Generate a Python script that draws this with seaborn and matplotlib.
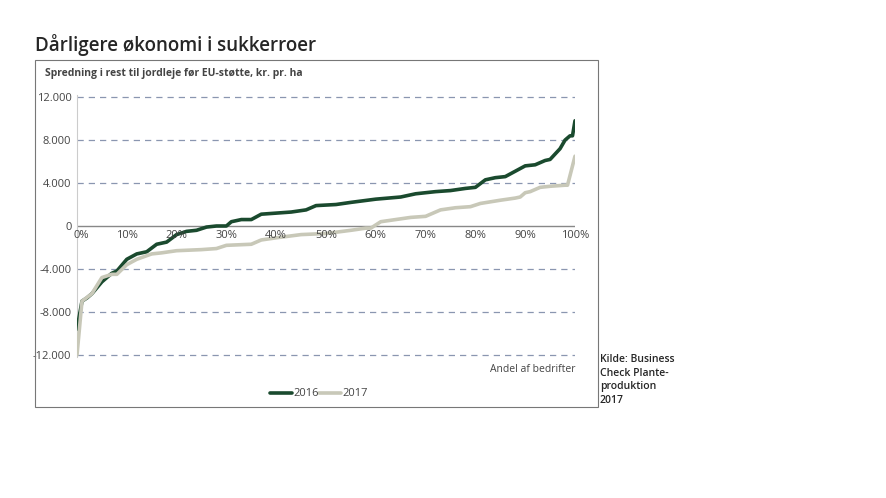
import matplotlib
matplotlib.use("Agg")
import matplotlib.pyplot as plt
import pandas as pd
import seaborn as sns
from matplotlib.patches import Rectangle

pct_2016 = [0, 1, 2, 3, 5, 7, 8, 10, 12, 14, 16, 18, 20, 22, 24, 26, 28, 30, 31, 33, 35, 37, 40, 43, 46,
            48, 52, 55, 60, 65, 68, 72, 75, 78, 80, 82, 84, 86, 88, 90, 92, 94, 95, 97, 98, 99, 99.5, 100]
val_2016 = [-9600, -7000, -6700, -6300, -5200, -4400, -4200, -3100, -2600, -2400, -1700, -1500, -800, -500,
            -400, -100, 0, 0, 400, 600, 600, 1100, 1200, 1300, 1500, 1900, 2000, 2200, 2500, 2700, 3000,
            3200, 3300, 3500, 3600, 4300, 4500, 4600, 5100, 5600, 5700, 6100, 6200, 7200, 8000, 8400, 8400, 9800]
pct_2017 = [0, 1, 3, 5, 7, 8, 10, 12, 15, 17, 20, 25, 28, 30, 35, 37, 40, 45, 50, 55, 58, 59, 61, 64, 67,
            70, 73, 76, 79, 81, 85, 88, 89, 90, 91, 93, 95, 98, 98.5, 100]
val_2017 = [-12000, -7000, -6300, -4800, -4500, -4500, -3600, -3100, -2600, -2500, -2300, -2200, -2100,
            -1800, -1700, -1300, -1100, -800, -700, -400, -200, -200, 400, 600, 800, 900, 1500, 1700, 1800,
            2100, 2400, 2600, 2700, 3100, 3200, 3600, 3700, 3800, 3800, 6500]

y_ticks = [-12000, -8000, -4000, 0, 4000, 8000, 12000]
x_ticks = [0, 10, 20, 30, 40, 50, 60, 70, 80, 90, 100]

df = pd.concat([
    pd.DataFrame({"pct": pct_2016, "val": val_2016, "year": "2016"}),
    pd.DataFrame({"pct": pct_2017, "val": val_2017, "year": "2017"}),
])

sns.set_style("white")
plt.rcParams["font.family"] = ["Open Sans", "DejaVu Sans"]

fig = plt.figure(figsize=(8.86, 4.98), dpi=100)
fig.patches.append(Rectangle((35 / 886, 1 - 407 / 498), 563 / 886, 347 / 498, transform=fig.transFigure,
                             fill=False, edgecolor="#777777", linewidth=0.8))
fig.text(35 / 886, 1 - 45 / 498, "Dårligere økonomi i sukkerroer", fontsize=13.5, va="center",
         fontweight="semibold")
fig.text(45 / 886, 1 - 73 / 498, "Spredning i rest til jordleje før EU-støtte, kr. pr. ha",
         fontsize=7.5, color="#444444", va="center", fontweight="bold")
fig.text(600 / 886, 1 - 380 / 498, "Kilde: Business\nCheck Plante-\nproduktion\n2017",
         fontsize=7.5, va="center", linespacing=1.3, fontweight="semibold")

ax = fig.add_axes([77 / 886, 1 - 357 / 498, 498 / 886, 262 / 498])
for y in y_ticks:
    if y != 0:
        ax.axhline(y, color="#8a96b0", linestyle=(0, (5, 4)), linewidth=0.9, zorder=0)
ax.axhline(0, color="#888888", linewidth=1.0, zorder=0)

sns.lineplot(data=df, x="pct", y="val", hue="year", palette={"2016": "#1a4a2e", "2017": "#c8c8b8"},
             linewidth=2.6, ax=ax, legend=False, zorder=3)

ax.set_xlim(0, 100)
ax.set_ylim(-12200, 12200)
ax.set_yticks(y_ticks)
ax.set_yticklabels([f"{v:,}".replace(",", ".") for v in y_ticks], fontsize=8, color="#444444")
ax.set_xticks([])
for x in x_ticks:
    ax.text(x + (0.8 if x == 0 else 0), -900, f"{x}%", ha="center", va="center", fontsize=8,
            color="#444444")
ax.tick_params(axis="y", length=0, pad=4)
for s in ["top", "right", "bottom"]:
    ax.spines[s].set_visible(False)
ax.spines["left"].set_color("#cccccc")
ax.set_xlabel("")
ax.set_ylabel("")
ax.text(100, -13400, "Andel af bedrifter", ha="right", va="center", fontsize=7.5, color="#444444")

fig.lines.append(plt.Line2D([270 / 886, 292 / 886], [1 - 393 / 498] * 2, transform=fig.transFigure,
                            color="#1a4a2e", linewidth=2.6))
fig.text(293 / 886, 1 - 393 / 498, "2016", fontsize=8, va="center", color="#444444")
fig.lines.append(plt.Line2D([319 / 886, 341 / 886], [1 - 393 / 498] * 2, transform=fig.transFigure,
                            color="#c8c8b8", linewidth=2.6))
fig.text(342 / 886, 1 - 393 / 498, "2017", fontsize=8, va="center", color="#444444")

fig.savefig("out.png", dpi=100)
